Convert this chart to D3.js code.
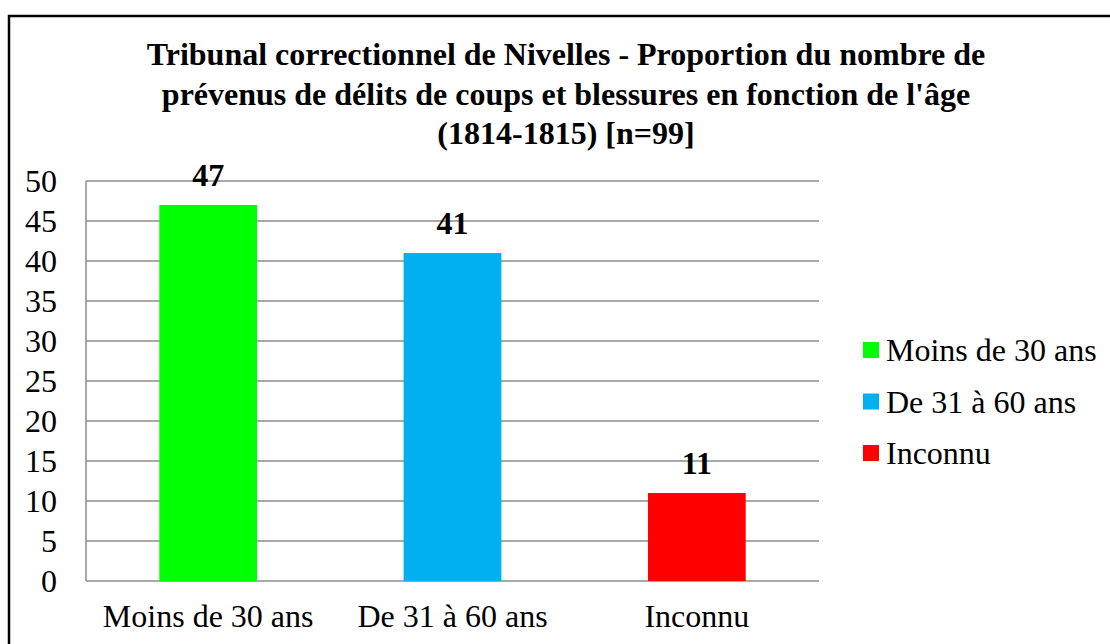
<!DOCTYPE html>
<html>
<head>
<meta charset="utf-8">
<script src="https://cdn.jsdelivr.net/npm/d3@7"></script>
</head>
<body style="margin:0">
<svg id="chart" width="1110" height="644"></svg>
<script>
const categories = ["Moins de 30 ans", "De 31 à 60 ans", "Inconnu"];
const values = [47, 41, 11];
const colors = ["#00ff00", "#00b0f0", "#ff0000"];
const yTicks = [0, 5, 10, 15, 20, 25, 30, 35, 40, 45, 50];
const titleLines = [
  "Tribunal correctionnel de Nivelles - Proportion du nombre de",
  "prévenus de délits de coups et blessures en fonction de l'âge",
  "(1814-1815) [n=99]"
];

const FONT = '"Liberation Serif", "Times New Roman", serif';
const svg = d3.select("#chart");

// outer border (extends past right/bottom edge)
svg.append("rect")
  .attr("x", 9).attr("y", 16)
  .attr("width", 1300).attr("height", 800)
  .attr("fill", "none").attr("stroke", "#000").attr("stroke-width", 2.5);

const plot = { left: 86, right: 819, top: 181, bottom: 581 };

const x = d3.scaleBand().domain(categories)
  .range([plot.left, plot.right]).paddingInner(0.6).paddingOuter(0.3);
const y = d3.scaleLinear().domain([0, 50]).range([plot.bottom, plot.top]);

// gridlines
svg.append("g").selectAll("line").data(yTicks).join("line")
  .attr("x1", plot.left).attr("x2", plot.right)
  .attr("y1", d => y(d)).attr("y2", d => y(d))
  .attr("stroke", "#8c8c8c").attr("stroke-width", 1.5);

// left axis line
svg.append("line")
  .attr("x1", plot.left).attr("x2", plot.left)
  .attr("y1", y(50)).attr("y2", y(0))
  .attr("stroke", "#8c8c8c").attr("stroke-width", 1.5);

// y tick labels
svg.append("g").selectAll("text").data(yTicks).join("text")
  .attr("x", 57).attr("y", d => y(d) + 11)
  .attr("text-anchor", "end")
  .attr("font-size", 32)
  .style("font-family", FONT)
  .text(d => d);

// bars
svg.append("g").selectAll("rect").data(values).join("rect")
  .attr("x", (d, i) => x(categories[i]))
  .attr("width", x.bandwidth())
  .attr("y", d => y(d))
  .attr("height", d => y(0) - y(d))
  .attr("fill", (d, i) => colors[i]);

// value labels
svg.append("g").selectAll("text").data(values).join("text")
  .attr("x", (d, i) => x(categories[i]) + x.bandwidth() / 2)
  .attr("y", d => y(d) - 19)
  .attr("text-anchor", "middle")
  .attr("font-size", 32).attr("font-weight", "bold")
  .style("font-family", FONT)
  .text(d => d);

// category labels
svg.append("g").selectAll("text").data(categories).join("text")
  .attr("x", d => x(d) + x.bandwidth() / 2)
  .attr("y", 627)
  .attr("text-anchor", "middle")
  .attr("font-size", 32)
  .style("font-family", FONT)
  .text(d => d);

// title
svg.append("g").selectAll("text").data(titleLines).join("text")
  .attr("x", 566).attr("y", (d, i) => 65 + i * 39.5)
  .attr("text-anchor", "middle")
  .attr("font-size", 32).attr("font-weight", "bold")
  .style("font-family", FONT)
  .text(d => d);

// legend
const leg = svg.append("g").selectAll("g").data(categories).join("g")
  .attr("transform", (d, i) => `translate(863, ${350 + i * 51.5})`);
leg.append("rect").attr("x", 0).attr("y", -8).attr("width", 16).attr("height", 16)
  .attr("fill", (d, i) => colors[i]);
leg.append("text").attr("x", 23).attr("y", 11)
  .attr("font-size", 32)
  .style("font-family", FONT)
  .text(d => d);
</script>
</body>
</html>
